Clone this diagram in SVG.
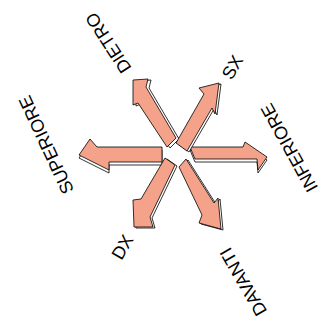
<svg xmlns="http://www.w3.org/2000/svg" width="326" height="329" viewBox="0 0 326 329">
<style>
.face{fill:#F5A28B;stroke:#000;stroke-width:0.8;stroke-linejoin:miter}
.side{fill:#fff;stroke:#000;stroke-width:0.8}
.lbl{font-family:"Liberation Sans",Arial,sans-serif;font-size:18px;fill:#000;text-anchor:middle}
</style>
<rect width="326" height="329" fill="#fff"/>
<g id="connectors"/>
<g id="arrow-left">
<polygon class="side" transform="translate(0,3)" points="79,155 90,139 97,147 162,147 162,162 109,162 109,170"/>
<polygon class="face" points="79,155 90,139 97,147 162,147 162,162 109,162 109,170"/>
</g>
<g id="arrow-right">
<polygon class="side" transform="translate(0,3)" points="190,147 243,147 245,142 267,157 258,170 257,159 195,159"/>
<polygon class="face" points="190,147 243,147 245,142 267,157 258,170 257,159 195,159"/>
</g>
<g id="arrow-upleft">
<polygon class="side" transform="translate(3,1)" points="133,80 148,79 146,87 176,138 167,147 138,103 133,105"/>
<polygon class="face" points="133,80 148,79 146,87 176,138 167,147 138,103 133,105"/>
</g>
<g id="arrow-upright">
<polygon class="side" transform="translate(2,1)" points="219,83 215,114 212,108 187,151 176,143 204,94 199,88"/>
<polygon class="face" points="219,83 215,114 212,108 187,151 176,143 204,94 199,88"/>
</g>
<g id="arrow-downleft">
<polygon class="side" transform="translate(2,1)" points="165,158 175,165 150,217 153,227 134,227 133,200 141,199"/>
<polygon class="face" points="165,158 175,165 150,217 153,227 134,227 133,200 141,199"/>
</g>
<g id="arrow-downright">
<polygon class="side" transform="translate(2,1)" points="186,159 214,203 218,198 221,229 199,223 202,215 179,167"/>
<polygon class="face" points="186,159 214,203 218,198 221,229 199,223 202,215 179,167"/>
</g>
<g id="label-dietro"><text class="lbl" transform="translate(108,43) rotate(-123)" x="0" y="6.5">DIETRO</text></g>
<g id="label-davanti"><text class="lbl" transform="translate(243,282) rotate(-120)" x="0" y="6.5">DAVANTI</text></g>
<g id="label-superiore"><text class="lbl" transform="translate(46,145) rotate(-115)" x="0" y="6.5">SUPERIORE</text></g>
<g id="label-inferiore"><text class="lbl" transform="translate(289,148) rotate(-119)" x="0" y="6.5">INFERIORE</text></g>
<g id="label-sx"><text class="lbl" transform="translate(232,67) rotate(-60)" x="0" y="6.5">SX</text></g>
<g id="label-dx"><text class="lbl" transform="translate(122,247) rotate(-60)" x="0" y="6.5">DX</text></g>
</svg>
